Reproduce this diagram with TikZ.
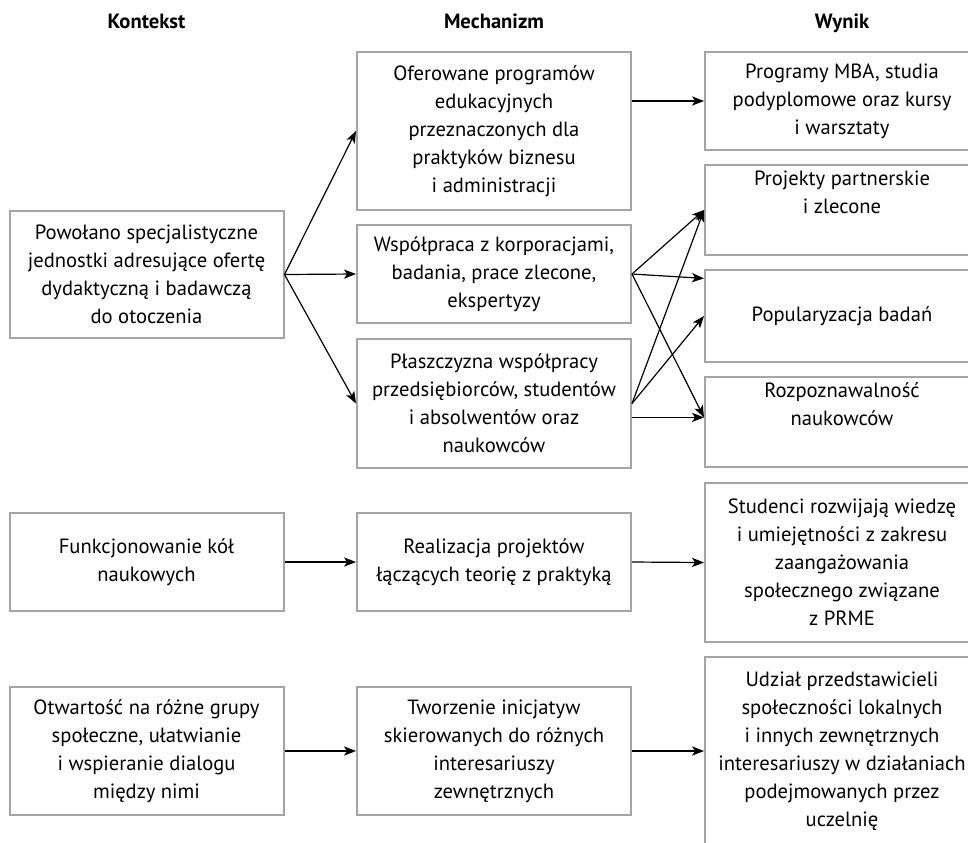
\documentclass[tikz,border=0pt]{standalone}
\usepackage{fontspec}
\setmainfont{PT Sans}
\usetikzlibrary{arrows.meta,calc}
\definecolor{boxgray}{RGB}{165,165,165}
\tikzset{
  box/.style={draw=boxgray,line width=1pt,minimum width=137pt,align=center,
    inner sep=2pt,font=\fontsize{10.3}{14}\selectfont},
  head/.style={font=\fontsize{10.3}{12}\selectfont\bfseries,anchor=base},
  conn/.style={line width=0.6pt,-{Stealth[length=6pt,width=4.6pt,inset=1.5pt]}}
}

\begin{document}
\begin{tikzpicture}[x=0.5pt,y=-0.5pt]
\useasboundingbox(0,0)rectangle(968,842);
\clip(0,0)rectangle(968,842);
%headings
\node[head](hkont)at(146.5,28){Kontekst};
\node[head](hmech)at(494,28){Mechanizm};
\node[head](hwyn)at(842,28){Wynik};
%kontekst
\node[box,minimum height=63.5pt](kont1)at(146.5,274.5){Powołano specjalistyczne\\ jednostki adresujące ofertę\\ dydaktyczną i badawczą\\ do otoczenia};
\node[box,minimum height=49pt](kont2)at(146.5,562){Funkcjonowanie kół\\ naukowych};
\node[box,minimum height=64pt](kont3)at(146.5,751){Otwartość na różne grupy\\ społeczne, ułatwianie\\ i wspieranie dialogu\\ między nimi};
%mechanizm
\node[box,minimum height=79pt](mech1)at(494,131){Oferowane programów\\ edukacyjnych\\ przeznaczonych dla\\ praktyków biznesu\\ i administracji};
\node[box,minimum height=49pt](mech2)at(494,274){Współpraca z korporacjami,\\ badania, prace zlecone,\\ ekspertyzy};
\node[box,minimum height=64.5pt](mech3)at(494,403.5){Płaszczyzna współpracy\\ przedsiębiorców, studentów\\ i absolwentów oraz\\ naukowców};
\node[box,minimum height=49pt](mech4)at(494,562){Realizacja projektów\\ łączących teorię z praktyką};
\node[box,minimum height=64pt](mech5)at(494,751){Tworzenie inicjatyw\\ skierowanych do różnych\\ interesariuszy\\ zewnętrznych};
%wynik
\node[box,minimum height=49pt](wyn1)at(842,101){Programy MBA, studia\\ podyplomowe oraz kursy\\ i warsztaty};
\node[box,minimum height=45pt](wyn2)at(842,210){Projekty partnerskie\\ i zlecone\\ \strut};
\node[box,minimum height=46pt](wyn3)at(842,316){Popularyzacja badań};
\node[box,minimum height=45pt](wyn4)at(842,422){Rozpoznawalność\\ naukowców\\ \strut};
\node[box,minimum height=79.5pt](wyn5)at(842,562.5){Studenci rozwijają wiedzę\\ i umiejętności z zakresu\\ zaangażowania\\ społecznego związane\\ z PRME};
\node[box,minimum height=94pt](wyn6)at(842,751){Udział przedstawicieli\\ społeczności lokalnych\\ i innych zewnętrznych\\ interesariuszy w działaniach\\ podejmowanych przez\\ uczelnię};
%entry points
\coordinate(wyn3in)at($(wyn3.north west)!0.1!(wyn3.south west)$);
\coordinate(wyn4in)at($(wyn4.north west)!0.45!(wyn4.south west)$);
%arrows
\draw[conn](kont1.east)--(mech1.west);
\draw[conn](kont1.east)--(mech2.west);
\draw[conn](kont1.east)--(mech3.west);
\draw[conn](wyn1.west-|mech1.east)--(wyn1.west);
\draw[conn](mech2.east)--(wyn2.west);
\draw[conn](mech2.east)--(wyn3in);
\draw[conn](mech2.east)--(wyn4in);
\draw[conn](mech3.east)--(wyn2.west);
\draw[conn](mech3.east)--(wyn3.west);
\draw[conn](wyn4in-|mech3.east)--(wyn4in);
\draw[conn](kont2.east)--(mech4.west);
\draw[conn](mech4.east)--(wyn5.west);
\draw[conn](kont3.east)--(mech5.west);
\draw[conn](mech5.east)--(wyn6.west);
\end{tikzpicture}
\end{document}
